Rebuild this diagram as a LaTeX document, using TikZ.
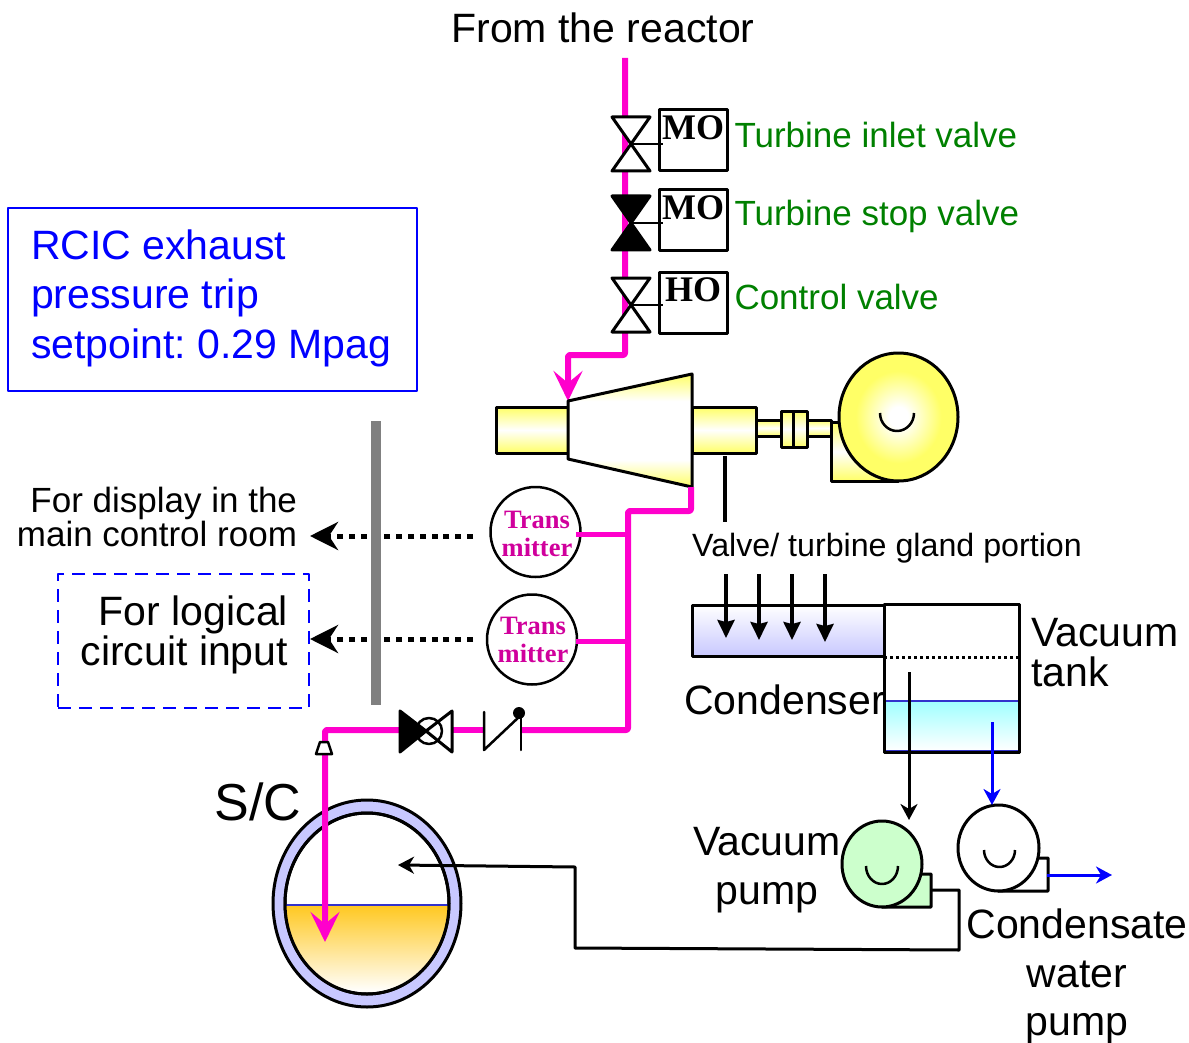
\documentclass[tikz,border=0pt]{standalone}
\usepackage{fontspec}
\setmainfont{Liberation Sans}
\newfontfamily\serifbf{Liberation Serif}
\usetikzlibrary{shapes.geometric,arrows.meta,positioning}
\definecolor{steam}{RGB}{255,0,204}
\definecolor{tmtext}{RGB}{208,0,156}
\definecolor{turbyellow}{RGB}{255,255,102}
\definecolor{condblue}{RGB}{200,200,255}
\definecolor{tankcyan}{RGB}{160,255,255}
\definecolor{poolorange}{RGB}{255,200,32}
\definecolor{pumpgreen}{RGB}{204,255,204}
\definecolor{levelblue}{RGB}{51,51,204}
\definecolor{tag}{RGB}{0,128,0}
\pgfdeclareradialshading{motorshade}{\pgfpoint{0bp}{0bp}}{color(0bp)=(white); color(4bp)=(white); color(18bp)=(turbyellow); color(25bp)=(turbyellow); color(50bp)=(turbyellow)}
\pgfdeclareverticalshading{coneshade}{100bp}{color(0bp)=(turbyellow); color(25bp)=(turbyellow); color(37bp)=(white); color(63bp)=(white); color(75bp)=(turbyellow); color(100bp)=(turbyellow)}

\begin{document}
\frenchspacing
\begin{tikzpicture}[
    x=1pt, y=-1pt,
    line join=round,
    txt/.style={inner sep=0pt, outer sep=0pt, font=\fontsize{41}{49}\selectfont},
    tagtxt/.style={txt, anchor=west, text=tag, font=\fontsize{35}{35}\selectfont},
    drivetxt/.style={inner sep=0pt, font=\serifbf\bfseries\fontsize{36}{36}\selectfont},
    drive/.style={rectangle, draw, line width=3pt, minimum width=68pt, minimum height=61pt, inner sep=0pt, outer sep=0pt},
    stem/.style={line width=2.5pt, shorten >=-4pt},
    tmbox/.style={circle, draw, fill=white, line width=2.5pt, minimum size=90pt, inner sep=0pt, outer sep=0pt},
    tmtxt/.style={inner sep=0pt, align=center, text=tmtext, font=\serifbf\bfseries\fontsize{26.5}{28}\selectfont},
    pipe/.style={draw=steam, line width=6pt, rounded corners=2pt},
    pipearrow/.style={pipe, -{Stealth[length=30pt, width=29pt, inset=12pt]}},
    vapour/.style={line width=3.5pt, -{Stealth[length=18pt, width=17pt, inset=2pt]}},
    thinarrow/.style={line width=3pt, -{Stealth[length=16pt, width=17pt, inset=5pt]}},
    sigline/.style={line width=5pt, dash pattern=on 6pt off 5.8pt, -{Stealth[length=28pt, width=28pt, inset=9pt]}},
    casing/.style={draw, line width=3pt, top color=turbyellow, bottom color=turbyellow, middle color=white},
    pumpbody/.style={ellipse, draw, line width=3pt, inner sep=0pt, outer sep=0pt}
]
\useasboundingbox (0,0) rectangle (1189,1043);

% Labels
\node[txt, font=\fontsize{41}{41}\selectfont] (reactor) at (603,28) {From the reactor};
\node[draw=blue, line width=2pt, minimum width=409pt, minimum height=183pt, outer sep=0pt] (setpoint) at (212.5,299.5) {};
\node[txt, anchor=west, align=left, text=blue, font=\fontsize{41}{49.5}\selectfont] (setpointtxt) at (31,298) {RCIC exhaust\\pressure trip\\setpoint: 0.29 Mpag};
\node[txt, anchor=east, align=right, font=\fontsize{35}{34}\selectfont] (display) at (297,517) {For display in the\\main control room};
\node[draw=blue, line width=2.5pt, dash pattern=on 13pt off 8pt, minimum width=251pt, minimum height=134pt, outer sep=0pt] (logic) at (183.5,641) {};
\node[txt, anchor=east, align=right, font=\fontsize{41}{40}\selectfont] (logictxt) at (288,635) {For logical\\circuit input};
\node[txt, font=\fontsize{32.2}{32}\selectfont] (gland) at (887,548) {Valve/ turbine gland portion};
\node[txt] (condlabel) at (784.5,700) {Condenser};
\node[txt, anchor=west, align=left, font=\fontsize{41}{40}\selectfont] (tanklabel) at (1031,653) {Vacuum\\tank};
\node[txt, align=center] (vplabel) at (767,870) {Vacuum\\pump};
\node[txt, align=center, font=\fontsize{41}{48.5}\selectfont] (cwlabel) at (1077,976.5) {Condensate\\water\\pump};
\node[txt, font=\fontsize{52}{52}\selectfont] (sclabel) at (258,802) {S/C};

% Steam line
\coordinate (steamtop) at (625,58);
\coordinate (steamdown) at (625,355);
\coordinate (steamleft) at (568,355);
\coordinate (steamin) at (568,401);
\draw[pipearrow] (steamtop) -- (steamdown) -- (steamleft) -- (steamin);

% Turbine and generator
\draw[casing] (496,407) rectangle (568,453);
\draw[casing] (692,407) rectangle (756,453);
\draw[line width=3pt, shading=coneshade] (568,401) -- (692,374) -- (692,487) -- (568,459) -- cycle;
\draw[casing] (756,420) rectangle (781,436);
\draw[casing] (807,420) rectangle (831,436);
\draw[casing] (781,411) rectangle (807,447);
\draw[line width=3pt] (793,411) -- (793,447);
\draw[casing] (831,422) -- (831,481) -- (898,481) -- (898,422) -- cycle;
\node[pumpbody, shading=motorshade, minimum width=119pt, minimum height=128pt] (gen) at (898.5,417) {};
\draw[line width=2.5pt] (880,413) arc[start angle=180, end angle=360, x radius=17pt, y radius=18pt];

% Inlet valves
\foreach \vy/\vname in {144/inlet, 305/ctrl}{
  \draw[line width=3pt, fill=white] (612,\vy-27) -- (650,\vy-27) -- (612,\vy+27) -- (650,\vy+27) -- cycle;
  \coordinate (\vname v) at (631,\vy);
}
\draw[line width=3pt, fill=black] (612,196) -- (650,196) -- (612,250) -- (650,250) -- cycle;
\coordinate (stopv) at (631,223);
\node[drive] (inletmo) at (693,140.5) {};
\node[drive] (stopmo) at (693,220) {};
\node[drive] (ctrlho) at (693,302.5) {};
\draw[stem] (inletv) -- (inletv -| inletmo.west);
\draw[stem] (stopv) -- (stopv -| stopmo.west);
\draw[stem] (ctrlv) -- (ctrlv -| ctrlho.west);
\node[drivetxt] (motxt) at (693,128) {MO};
\node[drivetxt] (motxtb) at (693,208) {MO};
\node[drivetxt] (hotxt) at (693,290) {HO};
\node[tagtxt] (inlettag) at (734.5,135) {Turbine inlet valve};
\node[tagtxt] (stoptag) at (734.5,216) {Turbine stop valve};
\node[tagtxt] (ctrltag) at (734.5,297) {Control valve};

% Exhaust line
\coordinate (exhout) at (691,487);
\coordinate (exhbend) at (691,511);
\coordinate (exhtee) at (628,511);
\coordinate (exhcorner) at (628,730);
\coordinate (chkright) at (521,730);
\coordinate (chkleft) at (484,730);
\coordinate (vlvright) at (452,730);
\coordinate (vlvleft) at (400,730);
\coordinate (drop) at (325,730);
\coordinate (droptip) at (325,942);
\draw[pipe] (exhout) -- (exhbend) -- (exhtee) -- (exhcorner) -- (chkright);
\draw[pipe] (chkleft) -- (vlvright);

% Suppression chamber
\node[ellipse, draw, fill=condblue, line width=3pt, minimum width=188pt, minimum height=207pt, inner sep=0pt] (torus) at (367,903.5) {};
\node[ellipse, draw, fill=white, line width=3pt, minimum width=164pt, minimum height=181pt, inner sep=0pt] (sc) at (367,903.5) {};
\shade[top color=poolorange, bottom color=white] (286,905) -- (448,905) .. controls (446,960) and (410,992) .. (367,992) .. controls (324,992) and (288,960) .. (286,905) -- cycle;
\draw[levelblue, line width=2.5pt] (286,905) -- (448,905);
\draw[line width=3pt] (sc.center) ellipse [x radius=82pt, y radius=90.5pt];
\draw[pipearrow] (vlvleft) -- (drop) -- (droptip);

% Valves on the test line
\draw[line width=3pt, fill=white, line cap=round] (426,731) -- (452,711) -- (452,752) -- cycle;
\draw[line width=3pt, fill=black] (426,731) -- (400,711) -- (400,752) -- cycle;
\draw[line width=2.5pt] (429,731) circle [radius=13pt];
\draw[line width=2.5pt, line cap=round] (484,712) -- (484,750) -- (520,716);
\draw[line width=2.5pt, line cap=round] (521,716) -- (521,750);
\fill (519,713) circle [radius=6pt];
\draw[line width=2.5pt, fill=white] (320,742) -- (328,742) -- (332,754) -- (316,754) -- cycle;

% Transmitters
\node[tmbox] (tma) at (535.5,532) {};
\node[tmbox] (tmb) at (532,639.5) {};
\node[tmtxt] (tmatxt) at (537,534) {\bfseries Trans\\\bfseries mitter};
\node[tmtxt] (tmbtxt) at (533,639.5) {\bfseries Trans\\\bfseries mitter};
\coordinate (teea) at (628,534);
\coordinate (teeb) at (628,641);
\draw[steam, line width=5pt] (teea) -- (576,534);
\draw[steam, line width=5pt] (teeb) -- (576,641);

% Signals
\coordinate (siga) at (473,536);
\coordinate (sigatip) at (310,536);
\coordinate (sigb) at (473,639);
\coordinate (sigbtip) at (310,639);
\draw[sigline] (siga) -- (sigatip);
\draw[sigline] (sigb) -- (sigbtip);
\fill[gray] (371,421) rectangle (381,705);

% Gland line, condenser, vacuum tank
\coordinate (glandout) at (725,456);
\coordinate (glandin) at (725,522);
\draw[line width=3.5pt] (glandout) -- (glandin);
\node[draw, line width=3pt, top color=white, bottom color=condblue, minimum width=192pt, minimum height=51pt, inner sep=0pt, outer sep=0pt] (cond) at (788,630.5) {};
\node[draw, line width=3pt, fill=white, minimum width=135pt, minimum height=148pt, inner sep=0pt, outer sep=0pt] (tank) at (951.5,678) {};
\shade[top color=tankcyan, bottom color=white] (885.5,701) rectangle (1017.5,750.5);
\draw[levelblue, line width=2.5pt] (885,701) -- (1018,701);
\draw[levelblue, line width=1.5pt] (885,751) -- (1018,751);
\draw[line width=3pt] (tank.north west) rectangle (tank.south east);
\draw[line width=3pt, dash pattern=on 3pt off 3pt] (884,657) -- (1019,657);
\foreach \ax/\ay in {726/638, 759/640, 792/640, 825/642}{
  \draw[vapour] (\ax,574) -- (\ax,\ay);
}

% Pumps
\draw[line width=3pt, fill=pumpgreen] (882,907) -- (931,907) -- (931,874) -- (915,874) -- cycle;
\node[pumpbody, fill=pumpgreen, minimum width=80pt, minimum height=86pt] (vacpump) at (882,864) {};
\draw[line width=2.5pt] (866,866) arc[start angle=180, end angle=360, x radius=16pt, y radius=18pt];
\draw[line width=3pt, fill=white] (998,891) -- (1048,891) -- (1048,858) -- (1030,858) -- cycle;
\node[pumpbody, fill=white, minimum width=81pt, minimum height=86pt] (cwpump) at (998.5,848) {};
\draw[line width=2.5pt] (984,850) arc[start angle=180, end angle=360, x radius=15.5pt, y radius=17pt];

% Pump lines
\coordinate (tankdrop) at (909,672);
\coordinate (vacin) at (909,820);
\coordinate (waterdrop) at (992,722);
\coordinate (cwin) at (992,805);
\coordinate (cwstart) at (1047,875);
\coordinate (cwend) at (1112,875);
\draw[thinarrow] (tankdrop) -- (vacin);
\draw[thinarrow, blue] (waterdrop) -- (cwin);
\draw[thinarrow, blue] (cwstart) -- (cwend);
\coordinate (retstart) at (932,890);
\coordinate (retcorner) at (959,890);
\coordinate (retlow) at (959,950);
\coordinate (retleft) at (575,948);
\coordinate (retup) at (575,867);
\coordinate (retend) at (398,865);
\draw[thinarrow] (retstart) -- (retcorner) -- (retlow) -- (retleft) -- (retup) -- (retend);

\end{tikzpicture}
\end{document}
